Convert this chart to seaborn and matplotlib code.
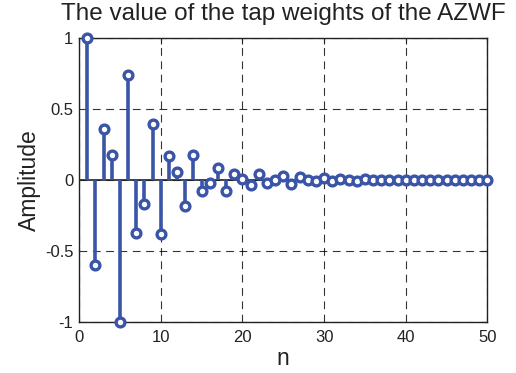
import numpy as np
import pandas as pd
import matplotlib
matplotlib.use("Agg")
import matplotlib.pyplot as plt
import seaborn as sns

n = list(range(1, 51))
amplitude = [1.0, -0.60, 0.357, 0.177, -1.0, 0.738, -0.374, -0.166, 0.394, -0.381,
             0.166, 0.056, -0.182, 0.177, -0.079, -0.023, 0.085, -0.08, 0.045, 0.005,
             -0.035, 0.045, -0.02, 0.0, 0.03, -0.025, 0.02, 0.0, -0.01, 0.015,
             -0.005, 0.005, 0.0, -0.005, 0.005, 0.0, 0.0, 0.0, 0.0, 0.0,
             0.0, 0.0, 0.0, 0.0, 0.0, 0.0, 0.0, 0.0, 0.0, 0.0]
xticks = [0, 10, 20, 30, 40, 50]
yticks = [-1, -0.5, 0, 0.5, 1]
yticklabels = ["-1", "-0.5", "0", "0.5", "1"]

df = pd.DataFrame({"n": n, "Amplitude": amplitude})

sns.set_style("white")
plt.rcParams['font.family'] = ['Liberation Sans', 'DejaVu Sans']

color = "#3a54a8"
fig = plt.figure(figsize=(5.16, 3.73), dpi=100)
ax = fig.add_axes([79/516, 1-322/373, (487.5-79)/516, (322-38)/373])

ax.axhline(0, color="#222222", lw=1.2, zorder=2)
ax.vlines(df["n"], 0, df["Amplitude"], color=color, lw=2.6, zorder=3)
sns.scatterplot(data=df, x="n", y="Amplitude", ax=ax, s=40, marker="o",
                facecolor="white", edgecolor=color, linewidth=2.4, zorder=4,
                clip_on=False, legend=False)

ax.set_xlim(0, 50)
ax.set_ylim(-1, 1)
ax.set_xticks(xticks)
ax.set_xticklabels([str(t) for t in xticks])
ax.set_yticks(yticks)
ax.set_yticklabels(yticklabels)
ax.grid(True, color="black", linestyle=(0, (7, 5)), lw=0.8, alpha=0.8)
ax.tick_params(direction="in", length=4, width=0.8, labelsize=12, colors="#222222",
               top=True, right=True)
ax.tick_params(axis="x", pad=6)
ax.tick_params(axis="y", pad=4)
for s in ax.spines.values():
    s.set_visible(True)
    s.set_color("#222222")
    s.set_linewidth(1.0)

ax.set_title("The value of the tap weights of the AZWF", fontsize=17.5, color="#222222", pad=13)
ax.set_xlabel("n", fontsize=16.5, color="#222222", labelpad=1)
ax.set_ylabel("Amplitude", fontsize=16.5, color="#222222", labelpad=3)

fig.savefig("out.png", dpi=100)
